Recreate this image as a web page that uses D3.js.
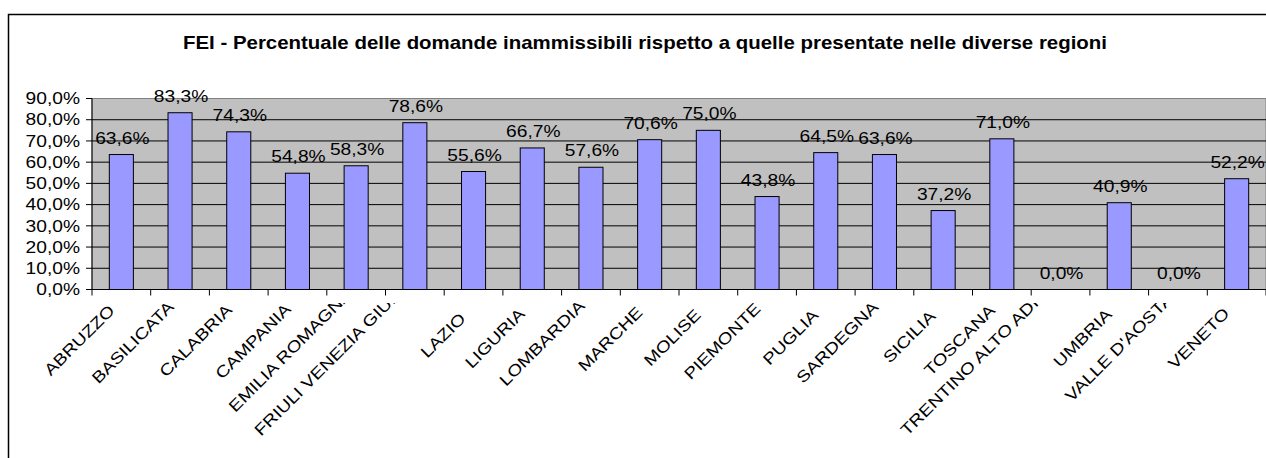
<!DOCTYPE html>
<html><head><meta charset="utf-8">
<script src="https://cdn.jsdelivr.net/npm/d3@7"></script>
<style>body{margin:0;background:#fff}svg{display:block}text{font-family:"Liberation Sans",Arial,sans-serif;fill:#000}</style>
</head><body>
<script>
const titleText = "FEI - Percentuale delle domande inammissibili rispetto a quelle presentate nelle diverse regioni";
const categories = ["ABRUZZO","BASILICATA","CALABRIA","CAMPANIA","EMILIA ROMAGNA","FRIULI VENEZIA GIULIA","LAZIO","LIGURIA","LOMBARDIA","MARCHE","MOLISE","PIEMONTE","PUGLIA","SARDEGNA","SICILIA","TOSCANA","TRENTINO ALTO ADIGE","UMBRIA","VALLE D'AOSTA","VENETO"];
const values = [63.6,83.3,74.3,54.8,58.3,78.6,55.6,66.7,57.6,70.6,75.0,43.8,64.5,63.6,37.2,71.0,0.0,40.9,0.0,52.2];
const yTicks = [0,10,20,30,40,50,60,70,80,90];

const W = 1266, H = 458;
const fmt = v => d3.format(".1f")(v).replace(".", ",") + "%";
const svg = d3.select("body").append("svg").attr("width", W).attr("height", H);

// outer frame
svg.append("rect").attr("x", 8.5).attr("y", 14.5).attr("width", 1300).attr("height", 500)
  .attr("fill", "#fff").attr("stroke", "#000").attr("stroke-width", 1.5);

// title
svg.append("text").attr("x", 645).attr("y", 49).attr("text-anchor", "middle")
  .attr("font-weight", "bold").attr("font-size", 19)
  .attr("textLength", 924).attr("lengthAdjust", "spacingAndGlyphs").text(titleText);

const x = d3.scaleBand().domain(categories).range([92, 1266]).padding(0);
const y = d3.scaleLinear().domain([0, 90]).range([289.5, 98.5]);

// plot area
svg.append("rect").attr("x", x.range()[0]).attr("y", y(90)).attr("width", x.range()[1] - x.range()[0])
  .attr("height", y(0) - y(90)).attr("fill", "#c0c0c0").attr("stroke", "#808080");

// grid lines
svg.append("g").selectAll("line").data(yTicks.filter(t => t > 0 && t < 90)).join("line")
  .attr("x1", x.range()[0]).attr("x2", x.range()[1]).attr("y1", d => y(d)).attr("y2", d => y(d))
  .attr("stroke", "#000").attr("stroke-width", 1);

// bars
const bw = x.bandwidth() * 0.41;
svg.append("g").selectAll("rect").data(values).join("rect")
  .attr("x", (d, i) => x(categories[i]) + (x.bandwidth() - bw) / 2)
  .attr("y", d => y(d)).attr("width", bw).attr("height", d => y(0) - y(d))
  .attr("fill", "#9999ff").attr("stroke", "#000").attr("stroke-width", 1);

// axes lines
svg.append("line").attr("x1", 92).attr("x2", 92).attr("y1", y(90)).attr("y2", y(0)).attr("stroke", "#000");
svg.append("line").attr("x1", 92).attr("x2", x.range()[1]).attr("y1", y(0)).attr("y2", y(0)).attr("stroke", "#000");

// y ticks
const yg = svg.append("g");
yg.selectAll("line").data(yTicks).join("line")
  .attr("x1", 86).attr("x2", 92).attr("y1", d => y(d)).attr("y2", d => y(d)).attr("stroke", "#000");
yg.selectAll("text").data(yTicks).join("text")
  .attr("transform", d => `translate(80,${y(d)}) scale(1.2,1)`)
  .attr("dy", "0.36em").attr("text-anchor", "end").attr("font-size", 16).text(d => fmt(d));

// x ticks at band boundaries
const bounds = categories.map(c => x(c)).concat([x.range()[1]]);
svg.append("g").selectAll("line").data(bounds).join("line")
  .attr("x1", d => d).attr("x2", d => d).attr("y1", y(0)).attr("y2", y(0) + 6).attr("stroke", "#000");

// x labels (rotated, clipped at the top like the original)
svg.append("clipPath").attr("id", "xclip").append("rect").attr("x", 0).attr("y", 303).attr("width", W).attr("height", H);
const sx = 1.2;
const xl = svg.append("g").attr("clip-path", "url(#xclip)").selectAll("text").data(categories).join("text")
  .attr("text-anchor", "start").attr("font-size", 16).text(d => d);
xl.each(function(d) {
  const diag = this.getComputedTextLength() * sx * Math.SQRT1_2;
  const sxp = x(d) + x.bandwidth() / 2 - 9 - 0.95 * diag;
  const syp = 331.7 + 0.69 * diag;
  d3.select(this).attr("transform", `translate(${sxp},${syp}) rotate(-45) scale(${sx},1)`);
});

// data labels
svg.append("g").selectAll("text").data(values).join("text")
  .attr("transform", (d, i) => `translate(${x(categories[i]) + x.bandwidth() / 2 + 1},${y(d) - 11}) scale(1.2,1)`)
  .attr("text-anchor", "middle").attr("font-size", 16).text(d => fmt(d));
</script>
</body></html>
